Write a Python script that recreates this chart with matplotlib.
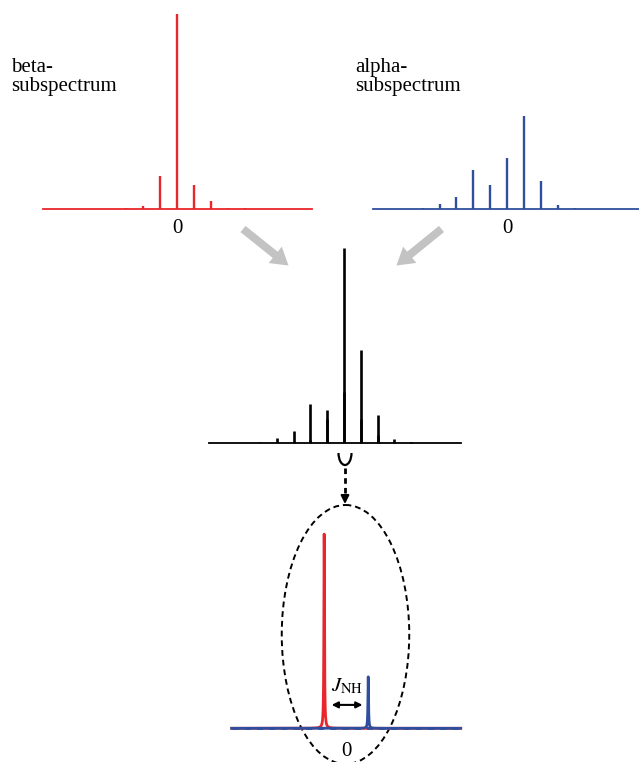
import numpy as np
import matplotlib.pyplot as plt
from matplotlib import patches

plt.rcParams['font.family'] = ['Liberation Serif', 'DejaVu Serif']
plt.rcParams['mathtext.fontset'] = 'stix'

# peak index (in units of the coupling) and intensities (beta centre line = 100)
beta_pos = [-3, -2, -1, 0, 1, 2, 3, 4]
beta_int = [0.6, 1.5, 17.0, 100.0, 12.3, 4.1, 0.6, 0.6]

alpha_pos = [-6, -5, -4, -3, -2, -1, 0, 1, 2, 3, 4, 5]
alpha_int = [0.3, 0.9, 2.6, 6.5, 20.0, 12.3, 26.5, 47.7, 14.4, 2.1, 0.5, 0.3]

# zoom of the centre line: beta and alpha components split by J_NH
J_NH = 1.0
zoom_pos = [-0.5 * J_NH, 0.5 * J_NH]
zoom_int = [beta_int[beta_pos.index(0)], alpha_int[alpha_pos.index(0)]]

RED = '#e8262b'
BLUE = '#2f4f9e'
GREY = '#c3c3c3'

W, H = 639, 762
PX = 1.95  # pixels per intensity unit

fig = plt.figure(figsize=(W / 100, H / 100), dpi=100)

# overlay in pixel coordinates for arrows, ellipse and labels
ax0 = fig.add_axes([0, 0, 1, 1])
ax0.set_xlim(0, W)
ax0.set_ylim(H, 0)
ax0.axis('off')


def panel(x0, x1, base, xlim):
    ax = fig.add_axes([x0 / W, 1 - base / H, (x1 - x0) / W, 200 / H])
    ax.set_xlim(xlim)
    ax.set_ylim(0, 200 / PX)
    ax.axis('off')
    return ax


def stick(ax, pos, inten, color, lw=1.7):
    ax.axhline(0, color=color, lw=1.3, clip_on=False)
    ax.vlines(pos, 0, inten, color=color, lw=lw, clip_on=False)


# beta subspectrum
axb = panel(43, 311.7, 209.3, (-7.9, 7.9))
stick(axb, beta_pos, beta_int, RED)
axb.text(0, -12.2, '0', ha='center', va='baseline', fontsize=15)

# alpha subspectrum
axa = panel(372.7, 641.5, 209.3, (-7.96, 7.96))
stick(axa, alpha_pos, alpha_int, BLUE)
axa.text(0, -12.2, '0', ha='center', va='baseline', fontsize=15)

# combined spectrum
axc = panel(209.3, 461, 443.3, (-8.02, 6.96))
stick(axc, beta_pos, beta_int, 'black', lw=1.9)
axc.vlines(alpha_pos, 0, alpha_int, color='black', lw=1.9)

# zoomed centre line
axz = panel(231.7, 460.7, 728.3, (-2.6, 2.6))
x = np.linspace(-2.6, 2.6, 4001)
g = 0.008
red_line = zoom_int[0] * g**2 / ((x - zoom_pos[0])**2 + g**2)
blue_line = zoom_int[1] * g**2 / ((x - zoom_pos[1])**2 + g**2)
axz.plot(x, red_line, color=RED, lw=2, clip_on=False, zorder=2)
axz.plot(x, blue_line, color=BLUE, lw=2, clip_on=False, zorder=3)
axz.axhline(0, color=BLUE, lw=2, dashes=(2.2, 2.2), zorder=4, clip_on=False)
axz.text(0, -14.3, '0', ha='center', va='baseline', fontsize=15)
axz.text(0.02, 18.8, r'$J_{\mathrm{NH}}$', ha='center', va='baseline', fontsize=15)
axz.annotate('', xy=(-0.33, 12), xytext=(0.37, 12),
             arrowprops=dict(arrowstyle='<|-|>', color='black', lw=1.5,
                             mutation_scale=9, shrinkA=0, shrinkB=0))

# labels
for xt, word in [(11.5, 'beta-'), (355, 'alpha-')]:
    ax0.text(xt, 71.7, word, fontsize=15, va='baseline')
    ax0.text(xt, 91.5, 'subspectrum', fontsize=15, va='baseline')

# grey arrows
ax0.add_patch(patches.FancyArrow(243, 229, 45.5, 36.5, width=8, head_width=21,
                                 head_length=17, length_includes_head=True,
                                 color=GREY, lw=0))
ax0.add_patch(patches.FancyArrow(441.5, 229, -45, 36.5, width=8, head_width=21,
                                 head_length=17, length_includes_head=True,
                                 color=GREY, lw=0))

# cup and dashed pointer to the ellipse
ax0.add_patch(patches.Arc((345, 453), 13, 24, theta1=0, theta2=180, lw=1.6))
ax0.plot([345, 345], [468, 497], color='black', lw=2, dashes=(2, 1.5))
ax0.annotate('', xy=(345, 504), xytext=(345, 495),
             arrowprops=dict(arrowstyle='-|>', color='black', lw=1.5,
                             mutation_scale=12, shrinkA=0, shrinkB=0))
ax0.add_patch(patches.Ellipse((345.5, 634.5), 127.5, 259, fill=False,
                              ec='black', lw=1.4, ls=(0, (3, 2))))

fig.savefig('out.png', dpi=100)
